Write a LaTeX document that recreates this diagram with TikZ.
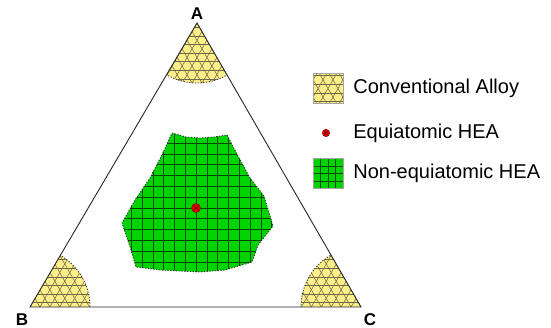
\documentclass[tikz,border=0pt]{standalone}
\usepackage{fontspec}
\setmainfont{Liberation Sans}
\usetikzlibrary{positioning}
\definecolor{alloyyellow}{RGB}{255,239,138}
\definecolor{hatchgray}{RGB}{110,105,70}
\definecolor{heagreen}{RGB}{0,212,0}
\definecolor{gridgreen}{RGB}{0,70,0}
\definecolor{dotred}{RGB}{228,0,0}
\newcommand{\kagomeat}[2]{%
  \foreach \ang/\off in {0/0.5,60/0,120/0}{%
    \foreach \k in {-10,...,10}
      \draw[alloyhatch]
        ([shift={(\ang+90:{(\k+\off)*8.6pt})}, shift={(\ang:-#2pt)}]#1) --
        ([shift={(\ang+90:{(\k+\off)*8.6pt})}, shift={(\ang:#2pt)}]#1);}}
\tikzset{
  sideline/.style={draw=black!85, line width=0.9pt},
  vertexlabel/.style={font=\fontsize{17}{20}\selectfont\bfseries, inner sep=0pt},
  legendtext/.style={font=\fontsize{20}{24}\selectfont, inner sep=0pt},
  regionedge/.style={draw=black!80, line width=0.9pt, dash pattern=on 1.2pt off 1.6pt},
  alloyhatch/.style={draw=hatchgray, solid, line width=0.55pt},
  gridline/.style={draw=gridgreen, solid, line width=0.6pt},
  alloybox/.style={draw=black!35, line width=0.4pt, fill=alloyyellow, minimum size=30pt, inner sep=0pt,
    path picture={\kagomeat{path picture bounding box.center}{30}}},
  heabox/.style={draw=black!35, line width=0.4pt, fill=heagreen, minimum size=30pt, inner sep=0pt,
    path picture={\draw[gridline, shift={(path picture bounding box.center)}, step=7.5pt] (-15pt,-15pt) grid (15pt,15pt);}},
  equidot/.style={circle, fill=dotred, draw=dotred!60!black, line width=0.4pt, minimum size=9pt, inner sep=0pt,
    path picture={\draw[dotred!45!black, line width=0.4pt] (path picture bounding box.north west) -- (path picture bounding box.south east) (path picture bounding box.north east) -- (path picture bounding box.south west);}}
}

\begin{document}
\begin{tikzpicture}[x=1pt, y=-1pt]
\useasboundingbox (0,0) rectangle (551,328);
\coordinate (A) at (197,23);
\coordinate (B) at (30,307);
\coordinate (C) at (361,307);
\coordinate (eqc) at (196,208);
\begin{scope}
  \clip (A) -- (B) -- (C) -- cycle;
  \foreach \v in {A,B,C}{
    \begin{scope}
      \clip (\v) circle (60);
      \fill[alloyyellow] (\v) circle (60);
      \kagomeat{\v}{80}
    \end{scope}
    \draw[regionedge] (\v) circle (60);
  }
\end{scope}
\path[fill=heagreen, regionedge,
  path picture={\draw[gridline, shift={(eqc)}, step=10.8pt] (-97.2pt,-97.2pt) grid (97.2pt,97.2pt);}]
  (172,133) -- (186,137) -- (200,138) -- (214,137) -- (227,135) -- (238,156) -- (250,178) -- (264,196)
  -- (273,226) -- (258,245) -- (252,262) -- (225,270) -- (200,272) -- (160,270) -- (136,267)
  -- (131,250) -- (122,223) -- (135,200) -- (150,178) -- (162,155) -- cycle;
\draw[sideline] (A) -- (B) -- (C) -- cycle;
\node[equidot] (eqpt) at (eqc) {};
\node[vertexlabel] (labA) at (197,14) {A};
\node[vertexlabel] (labB) at (22,320) {B};
\node[vertexlabel] (labC) at (370,320) {C};
\node[alloybox] (lgalloy) at (328,88.5) {};
\node[legendtext, right=10pt of lgalloy] (txalloy) {Conventional Alloy};
\node[equidot, minimum size=7.5pt] (lgdot) at (326,133) {};
\node[legendtext, anchor=west] (txdot) at (txalloy.west |- lgdot) {Equiatomic HEA};
\node[heabox] (lghea) at (328,173.5) {};
\node[legendtext, right=10pt of lghea] (txhea) {Non-equiatomic HEA};
\end{tikzpicture}
\end{document}
